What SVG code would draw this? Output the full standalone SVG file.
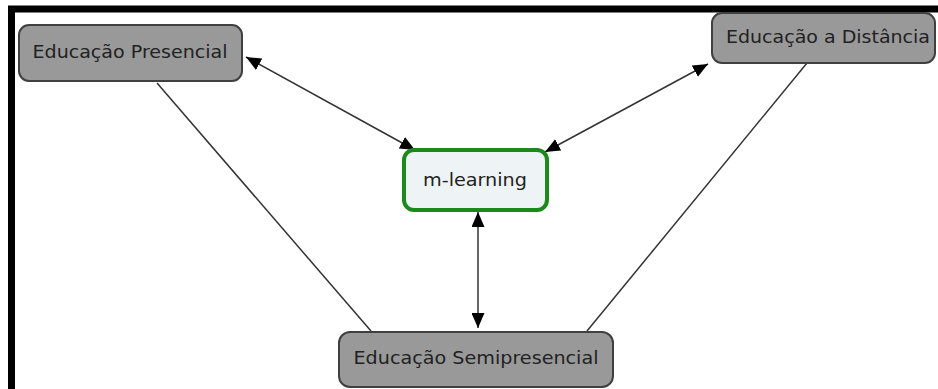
<svg xmlns="http://www.w3.org/2000/svg" width="938" height="389" viewBox="0 0 938 389">
<defs>
<style>
.node rect{fill:#999999;stroke:#404040;stroke-width:2}
.node text{font-family:"DejaVu Sans",Verdana,sans-serif;font-size:17px;fill:#222;text-anchor:middle}
#m-learning rect{fill:#eef3f6;stroke:#1b8a1b;stroke-width:4}
.conn line{stroke:#333;stroke-width:1.5;fill:none}
</style>
<marker id="ah" viewBox="0 0 15 13" refX="15" refY="6.5" markerWidth="15" markerHeight="13" markerUnits="userSpaceOnUse" orient="auto-start-reverse">
<path d="M0,0 L15,6.5 L0,13 Z" fill="#000"/>
</marker>
</defs>
<rect x="0" y="0" width="938" height="389" fill="#fff"/>
<path d="M11.5,389 V9 H938" fill="none" stroke="#000" stroke-width="7"/>
<g id="connectors" class="conn">
<line x1="246" y1="57" x2="415" y2="150" marker-start="url(#ah)" marker-end="url(#ah)"/>
<line x1="708" y1="64" x2="545" y2="152" marker-start="url(#ah)" marker-end="url(#ah)"/>
<line x1="478" y1="212" x2="478" y2="328" marker-start="url(#ah)" marker-end="url(#ah)"/>
<line x1="157" y1="83" x2="371" y2="331"/>
<line x1="807" y1="63" x2="587" y2="331"/>
</g>
<g id="educacao-presencial" class="node">
<rect x="19" y="25" width="223" height="56" rx="10"/>
<text x="130" y="58" textLength="195" lengthAdjust="spacingAndGlyphs">Educação Presencial</text>
</g>
<g id="educacao-distancia" class="node">
<rect x="712" y="13" width="223" height="50" rx="10"/>
<text x="828" y="43" textLength="204" lengthAdjust="spacingAndGlyphs">Educação a Distância</text>
</g>
<g id="m-learning" class="node">
<rect x="404" y="150" width="143" height="60" rx="10"/>
<text x="475" y="186" textLength="104" lengthAdjust="spacingAndGlyphs">m-learning</text>
</g>
<g id="educacao-semipresencial" class="node">
<rect x="339" y="332" width="274" height="55" rx="11"/>
<text x="476" y="364" textLength="245" lengthAdjust="spacingAndGlyphs">Educação Semipresencial</text>
</g>
</svg>
